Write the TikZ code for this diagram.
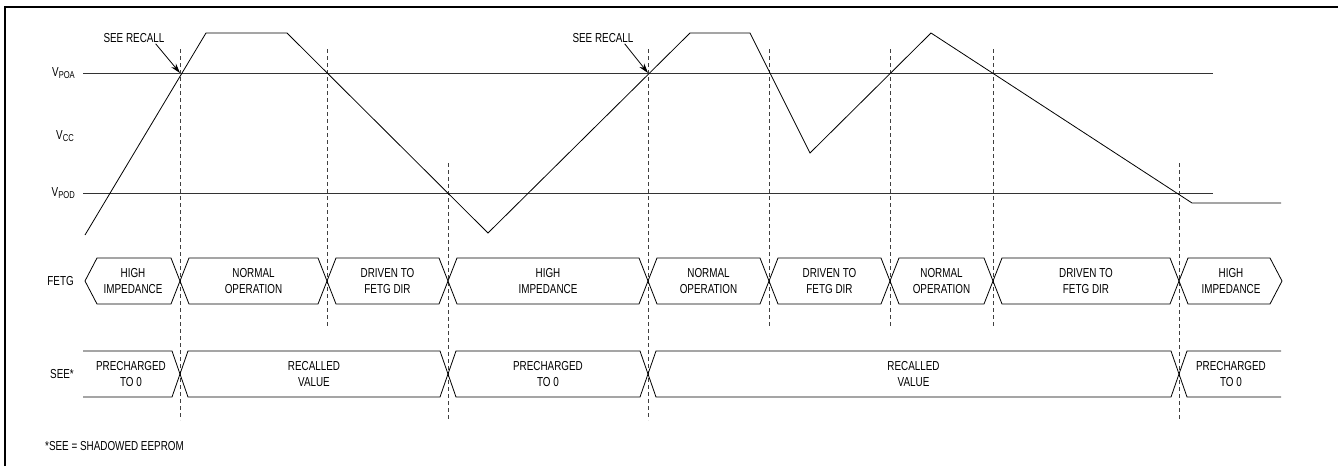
\documentclass[tikz,border=0pt]{standalone}
\usepackage{fontspec}
\setmainfont{Liberation Sans}[FakeStretch=0.76]
\usetikzlibrary{arrows.meta}
\newcommand{\vsub}[1]{V\raisebox{-2pt}{\fontsize{10}{10}\selectfont #1}}

\begin{document}
\begin{tikzpicture}[x=1pt, y=-1pt,
  every node/.style = {font=\fontsize{13}{16}\selectfont, align=center, inner sep=1pt},
  wave/.style = {line width=0.8pt},
  level/.style = {line width=0.8pt, black!80},
  guide/.style = {line width=0.8pt, black!75, dash pattern=on 4pt off 3pt},
  bus/.style = {line width=0.8pt},
  pointer/.style = {-{Stealth[length=10pt,width=6pt]}, line width=0.8pt}]
\useasboundingbox (0,0) rectangle (1338,466);
\draw[line width=2pt] (5,466) -- (5,7) -- (1338,7);

% signal names
\node[anchor=east] (poa) at (76,73) {\vsub{POA}};
\node[anchor=east] (vcc) at (75,136) {\vsub{CC}};
\node[anchor=east] (pod) at (76,193) {\vsub{POD}};
\node[anchor=east] (fetg) at (75,281) {FETG};
\node[anchor=east] (see) at (75,374) {SEE*};
\node[anchor=west] (note) at (44,446) {*SEE = SHADOWED EEPROM};

% thresholds
\draw[level] (83,73) -- (1213,73);
\draw[level] (83,193) -- (1213,193);

% guides
\foreach \x/\top/\bot in {180/49/420, 327/49/328, 448/163/420, 648/49/420,
                          769/49/328, 890/49/328, 993/49/328, 1179/163/420}
  \draw[guide] (\x,\top) -- (\x,\bot);

% supply
\draw[wave] (85,235) -- (206,33) -- (287,33) -- (488,233) -- (690,33) -- (750,33)
  -- (810,153) -- (931,33) -- (1192,203) -- (1281,203);

% recall points
\coordinate (r1) at (180,73);
\coordinate (r2) at (648,73);
\node (sr1) at (134,38) {SEE RECALL};
\node (sr2) at (603,38) {SEE RECALL};
\draw[pointer] ([xshift=-10pt]sr1.south east) -- (r1);
\draw[pointer] ([xshift=-10pt]sr2.south east) -- (r2);

% FETG bus
\draw[bus] (85,281) -- (97,258) -- (171,258) -- (180,281) -- (171,304) -- (97,304) -- cycle;
\node (f1) at (133,281) {HIGH\\IMPEDANCE};
\foreach \a/\b/\t [count=\i from 2] in {180/327/{NORMAL\\OPERATION}, 327/448/{DRIVEN TO\\FETG DIR},
    448/648/{HIGH\\IMPEDANCE}, 648/769/{NORMAL\\OPERATION}, 769/890/{DRIVEN TO\\FETG DIR},
    890/993/{NORMAL\\OPERATION}, 993/1179/{DRIVEN TO\\FETG DIR}} {
  \draw[bus] (\a,281) -- ({\a+9},258) -- ({\b-9},258) -- (\b,281) -- ({\b-9},304) -- ({\a+9},304) -- cycle;
  \node (f\i) at ({(\a+\b)/2},281) {\t};
}
\draw[bus] (1179,281) -- (1188,258) -- (1270,258) -- (1282,281) -- (1270,304) -- (1188,304) -- cycle;
\node (f9) at (1231,281) {HIGH\\IMPEDANCE};

% SEE bus
\draw[bus] (83,351) -- (172,351) -- (180,374) -- (172,397) -- (83,397);
\node (s1) at (131,374) {PRECHARGED\\TO 0};
\foreach \a/\b/\t [count=\i from 2] in {180/448/{RECALLED\\VALUE}, 448/648/{PRECHARGED\\TO 0},
    648/1179/{RECALLED\\VALUE}} {
  \draw[bus] (\a,374) -- ({\a+8},351) -- ({\b-8},351) -- (\b,374) -- ({\b-8},397) -- ({\a+8},397) -- cycle;
  \node (s\i) at ({(\a+\b)/2},374) {\t};
}
\draw[bus] (1281,351) -- (1187,351) -- (1179,374) -- (1187,397) -- (1281,397);
\node (s5) at (1231,374) {PRECHARGED\\TO 0};

\end{tikzpicture}
\end{document}
